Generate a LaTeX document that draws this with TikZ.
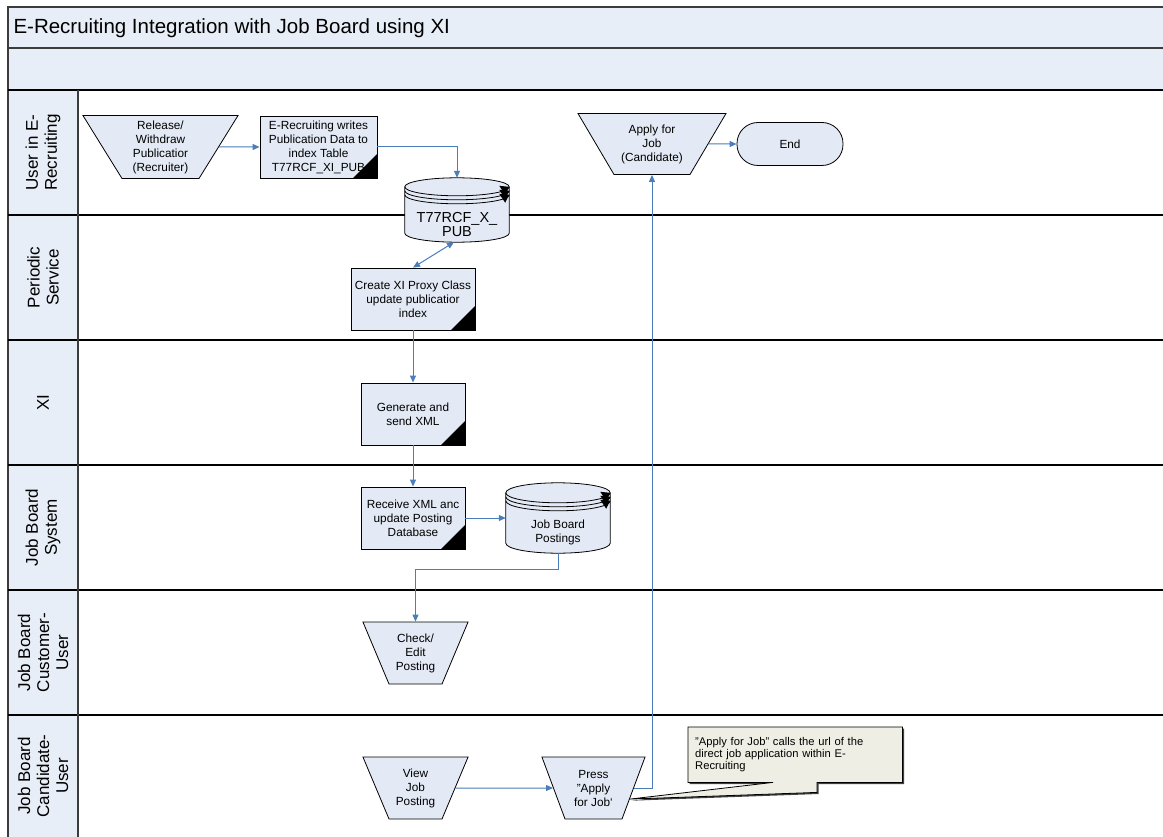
\documentclass[tikz,border=0pt]{standalone}
\usepackage{fontspec}
\setmainfont{Liberation Sans}
\usetikzlibrary{shapes.geometric,arrows.meta,calc}
\pgfdeclarelayer{lanes}
\pgfdeclarelayer{shapes}
\pgfsetlayers{lanes,shapes,main}
\definecolor{bandfill}{HTML}{E8EEF7}
\definecolor{nodefill}{HTML}{E4EAF5}
\definecolor{conn}{HTML}{4A7EBB}
\definecolor{notefill}{HTML}{EEEEE4}
\definecolor{framecol}{HTML}{3C3C3C}

% text block of a manual-operation shape: height, bottom width, text
\newcommand\mantext[3]{\parbox[c][#1pt][c]{#2pt}{\centering #3}}

\newcommand\dbshape[2]{%
  \path[fill=nodefill, draw=black, line width=0.8pt] let \p1=(#1.north west), \p2=(#1.south east), \n1={(\x2-\x1)/2} in
    (\x1,\y1-#2) -- (\x1,\y2+#2) arc[start angle=180,end angle=360,x radius=\n1,y radius=#2 pt]
    -- (\x2,\y1-#2) arc[start angle=0,end angle=180,x radius=\n1,y radius=#2 pt] -- cycle;
  \draw[black, line width=0.8pt] let \p1=(#1.north west), \p2=(#1.south east), \n1={(\x2-\x1)/2} in
    (\x1,\y1-#2) arc[start angle=180,end angle=360,x radius=\n1,y radius=#2 pt]
    (\x1,\y1-#2-4) arc[start angle=180,end angle=360,x radius=\n1,y radius=#2 pt]
    (\x1,\y1-#2-8) arc[start angle=180,end angle=360,x radius=\n1,y radius=#2 pt];
  \fill[black] let \p2=(#1.south east), \p1=(#1.north west) in
    (\x2-10,\y1-#2+1) -- (\x2,\y1-#2) -- (\x2-4,\y1-#2-8) -- cycle
    (\x2-10,\y1-#2-3) -- (\x2,\y1-#2-4) -- (\x2-4,\y1-#2-12) -- cycle
    (\x2-10,\y1-#2-7) -- (\x2,\y1-#2-8) -- (\x2-4,\y1-#2-16) -- cycle;
}

\begin{document}
\begin{tikzpicture}[x=1pt,y=1pt,
  txt/.style={font=\fontsize{11.8}{14}\selectfont, align=center},
  proc/.style={txt, rectangle, draw=black, line width=0.8pt, fill=nodefill, inner sep=1pt,
    path picture={\fill[black] (path picture bounding box.south east) -- ([xshift=-24pt]path picture bounding box.south east) -- ([yshift=24pt]path picture bounding box.south east) -- cycle;}},
  manop/.style={font=\fontsize{11.8}{14}\selectfont, trapezium, shape border rotate=180,
    draw=black, line width=0.8pt, fill=nodefill, inner sep=0pt, minimum width=1pt, minimum height=1pt},
  dbase/.style={rectangle, draw=none, inner sep=0pt},
  terminal/.style={txt, rectangle, rounded corners=21pt, draw=black, line width=0.8pt, fill=nodefill},
  lanelabel/.style={rotate=90, font=\fontsize{17}{19}\selectfont, align=center},
  arr/.style={draw=conn, line width=1pt, -{Triangle[length=7pt,width=6pt]}},
  arrboth/.style={draw=conn, line width=1pt, {Triangle[length=7pt,width=6pt]}-{Triangle[length=7pt,width=6pt]}},
]
\useasboundingbox (0,0) rectangle (1163,-837);

% ---------- nodes ----------
\node[anchor=west, font=\fontsize{20.5}{24}\selectfont] (title) at (10,-28) {E-Recruiting Integration with Job Board using XI};

\node[lanelabel] (lane1) at (43,-152.5) {User in E-\\Recruiting};
\node[lanelabel] (lane2) at (43,-277.5) {Periodic\\Service};
\node[lanelabel] (lane3) at (43,-402.5) {XI};
\node[lanelabel] (lane4) at (43,-527.5) {Job Board\\System};
\node[lanelabel] (lane5) at (43,-652.5) {Job Board\\Customer-\\User};
\node[lanelabel] (lane6) at (43,-776) {Job Board\\Candidate-\\User};

\node[manop, trapezium angle=58.2] (release) at (160.5,-147) {\mantext{63}{77}{Release/\\Withdraw\\Publicatior\\(Recruiter)}};
\node[proc, minimum width=117, minimum height=62] (box2) at (318.5,-147) {E-Recruiting writes\\Publication Data to\\index Table\\T77RCF\_XI\_PUB};
\node[dbase, minimum width=104, minimum height=64,
  label={[align=center, font=\fontsize{14.5}{14}\selectfont, yshift=-15pt]center:{T77RCF\_X\_\\PUB}}] (db1) at (457,-210) {};
\node[proc, minimum width=124, minimum height=62] (box4) at (413,-299) {Create XI Proxy Class\\update publicatior\\index};
\node[proc, minimum width=104, minimum height=62] (box5) at (413,-414) {Generate and\\send XML};
\node[proc, minimum width=104, minimum height=62] (box6) at (413,-518) {Receive XML anc\\update Posting\\Database};
\node[dbase, minimum width=104, minimum height=70,
  label={[txt, yshift=-14pt]center:{Job Board\\Postings}}] (db2) at (558,-518) {};
\node[manop, trapezium angle=67.2] (check) at (415.5,-653) {\mantext{62}{53}{Check/\\Edit\\Posting}};
\node[manop, trapezium angle=67.2] (view) at (415.5,-788) {\mantext{62}{53}{View\\Job\\Posting}};
\node[manop, trapezium angle=69.6] (press) at (593.5,-788) {\mantext{62}{57}{Press\\\symbol{34}Apply\\for Job\symbol{96}}};
\node[manop, trapezium angle=59.45] (apply) at (652,-144) {\mantext{61}{76}{Apply for\\Job\\(Candidate)}};
\node[terminal, minimum width=106, minimum height=43] (end) at (790,-144) {End};
\node[anchor=north west, font=\fontsize{11.2}{12.3}\selectfont, align=left, text width=200pt,
  inner xsep=7pt, inner ysep=4pt, minimum height=55pt] (note) at (688,-727)
  {\symbol{34}Apply for Job\symbol{34} calls the url of the\\direct job application within E-\\Recruiting};

% ---------- lanes ----------
\begin{pgfonlayer}{lanes}
  \fill[bandfill] (8,-7) rectangle (1175,-90);
  \fill[bandfill] (8,-90) rectangle (78,-845);
  \draw[framecol, line width=1.8pt] (1175,-7) -- (8,-7) -- (8,-845);
  \draw[framecol, line width=1.6pt] (8,-48) -- (1175,-48);
  \draw[black, line width=1.6pt] (8,-90) -- (1175,-90);
  \foreach \yy in {215,340,465,590,715} \draw[black, line width=1.4pt] (8,-\yy) -- (1175,-\yy);
  \draw[framecol, line width=1.2pt] (78,-90) -- (78,-845);
\end{pgfonlayer}

% ---------- shapes ----------
\begin{pgfonlayer}{shapes}
  \dbshape{db1}{9}
  \dbshape{db2}{10}
  \def\notepath{(note.north west) -- (note.north east) -- (note.south east) -- ($(note.south west)+(129,0)$) -- ($(note.south west)+(129,-10)$) -- (press.-17) -- ($(note.south west)+(85,0)$) -- (note.south west) -- cycle}
  \fill[black!75, transform canvas={shift={(1.6pt,-1.6pt)}}] \notepath;
  \filldraw[fill=notefill, draw=black, line width=0.8pt] \notepath;
\end{pgfonlayer}

% ---------- connectors ----------
\draw[arr] (release) -- (box2);
\draw[arr] (box2.east) -| (db1.north);
\draw[arrboth] ([xshift=-3pt]db1.south) -- (box4.north);
\draw[arr] (box4) -- (box5);
\draw[arr] (box5) -- (box6);
\draw[arr] (box6) -- (db2);
\draw[arr] (db2.south) -- ++(0,-16) -| (check.90);
\draw[arr] (view) -- (press);
\draw[arr] (press.0) -| (apply.-90);
\draw[arr] (apply) -- (end);
\end{tikzpicture}
\end{document}
